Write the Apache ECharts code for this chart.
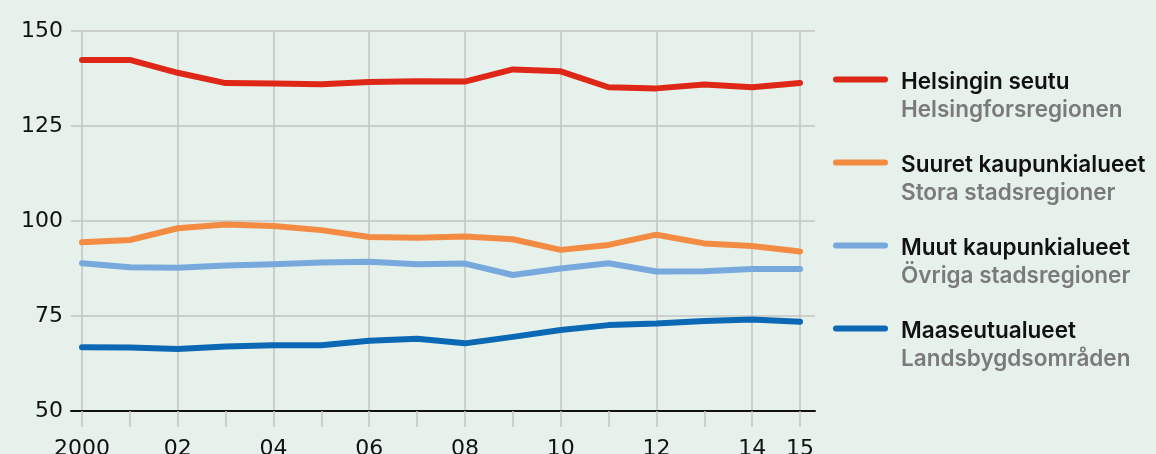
<!DOCTYPE html>
<html>
<head>
<meta charset="utf-8">
<script src="https://cdn.jsdelivr.net/npm/echarts@6/dist/echarts.min.js"></script>
<style>
html,body{margin:0;padding:0;background:#e5f1ea;}
#c{width:1156px;height:454px;}
</style>
</head>
<body>
<div id="c"></div>
<script>
var years = ['2000','2001','2002','2003','2004','2005','2006','2007','2008','2009','2010','2011','2012','2013','2014','2015'];
var yearLabels = ['2000','01','02','03','04','05','06','07','08','09','10','11','12','13','14','15'];
var namesFi = ['Helsingin seutu','Suuret kaupunkialueet','Muut kaupunkialueet','Maaseutualueet'];
var namesSv = ['Helsingforsregionen','Stora stadsregioner','Övriga stadsregioner','Landsbygdsområden'];
var colors = ['#df2718','#f38b42','#78a9dd','#0b68b4'];
var helsinki = [142.4,142.4,139.0,136.3,136.2,136.0,136.6,136.8,136.7,139.9,139.4,135.2,134.9,135.9,135.2,136.3];
var suuret = [94.4,95.0,98.1,99.1,98.7,97.6,95.8,95.6,95.9,95.2,92.4,93.7,96.4,94.1,93.4,92.0];
var muut = [88.9,87.8,87.7,88.3,88.6,89.1,89.3,88.6,88.8,85.8,87.5,88.9,86.7,86.8,87.4,87.4];
var maaseutu = [66.8,66.7,66.3,67.0,67.3,67.3,68.5,69.0,67.8,69.5,71.3,72.6,73.0,73.7,74.1,73.5];
var yTicks = [50,75,100,125,150];
var seriesData = [helsinki, suuret, muut, maaseutu];

var AXFONT = '"DejaVu Sans", Verdana, sans-serif';
var LGFONT = 'Inter, "DejaVu Sans", sans-serif';
var chart = echarts.init(document.getElementById('c'), null, {renderer:'canvas'});
function showIdx(i){ return i % 2 === 0 || i === years.length - 1; }

var graphics = [];
namesFi.forEach(function(n, i){
  var y0 = 79.5 + 83 * i;
  graphics.push({type:'line', shape:{x1:836, y1:y0, x2:885, y2:y0},
    style:{stroke:colors[i], lineWidth:6, lineCap:'round'}});
  graphics.push({type:'text', x:901, y:y0 + 2.5,
    style:{text:n, fill:'#111111', fontSize:22.5, fontWeight:600, fontFamily:LGFONT, verticalAlign:'middle'}});
  graphics.push({type:'text', x:901, y:y0 + 30.5,
    style:{text:namesSv[i], fill:'#7a7a7a', fontSize:22.5, fontWeight:600, fontFamily:LGFONT, verticalAlign:'middle'}});
});

var option = {
  backgroundColor:'#e5f1ea',
  animation:false,
  grid:[
    {left:71, right:341, top:31, height:380, outerBoundsMode:'none', containLabel:false},
    {left:82, right:356, top:31, height:380, outerBoundsMode:'none', containLabel:false}
  ],
  xAxis:[
    {gridIndex:0, type:'value', min:0, max:1, axisLine:{show:true, lineStyle:{color:'#111', width:2}},
     axisTick:{show:false}, axisLabel:{show:false}, splitLine:{show:false}},
    {gridIndex:1, type:'category', data:yearLabels, boundaryGap:false,
     axisLine:{show:false},
     axisTick:{show:true, interval:0, length:16, lineStyle:{color:'#c2c5c2', width:1.5}},
     axisLabel:{interval:function(i){return showIdx(i);}, color:'#111', fontSize:22, fontFamily:AXFONT, margin:27, hideOverlap:false},
     splitLine:{show:true, interval:function(i){return showIdx(i);}, lineStyle:{color:'#c2c5c2', width:1.5}}}
  ],
  yAxis:[
    {gridIndex:0, type:'value', min:yTicks[0], max:yTicks[yTicks.length-1], interval:yTicks[1]-yTicks[0],
     axisLine:{show:false}, axisTick:{show:false},
     axisLabel:{color:'#111', fontSize:22, fontFamily:AXFONT, margin:8},
     splitLine:{show:true, lineStyle:{color:'#c2c5c2', width:1.5}}},
    {gridIndex:1, type:'value', min:yTicks[0], max:yTicks[yTicks.length-1], interval:yTicks[1]-yTicks[0],
     axisLine:{show:false}, axisTick:{show:false}, axisLabel:{show:false}, splitLine:{show:false}}
  ],
  series: seriesData.map(function(d, i){
    return {type:'line', name:namesFi[i], xAxisIndex:1, yAxisIndex:1, data:d,
      symbol:'none', z:10 - i,
      lineStyle:{color:colors[i], width:6, cap:'round', join:'round'}};
  }),
  graphic: graphics
};
chart.setOption(option);
</script>
</body>
</html>
